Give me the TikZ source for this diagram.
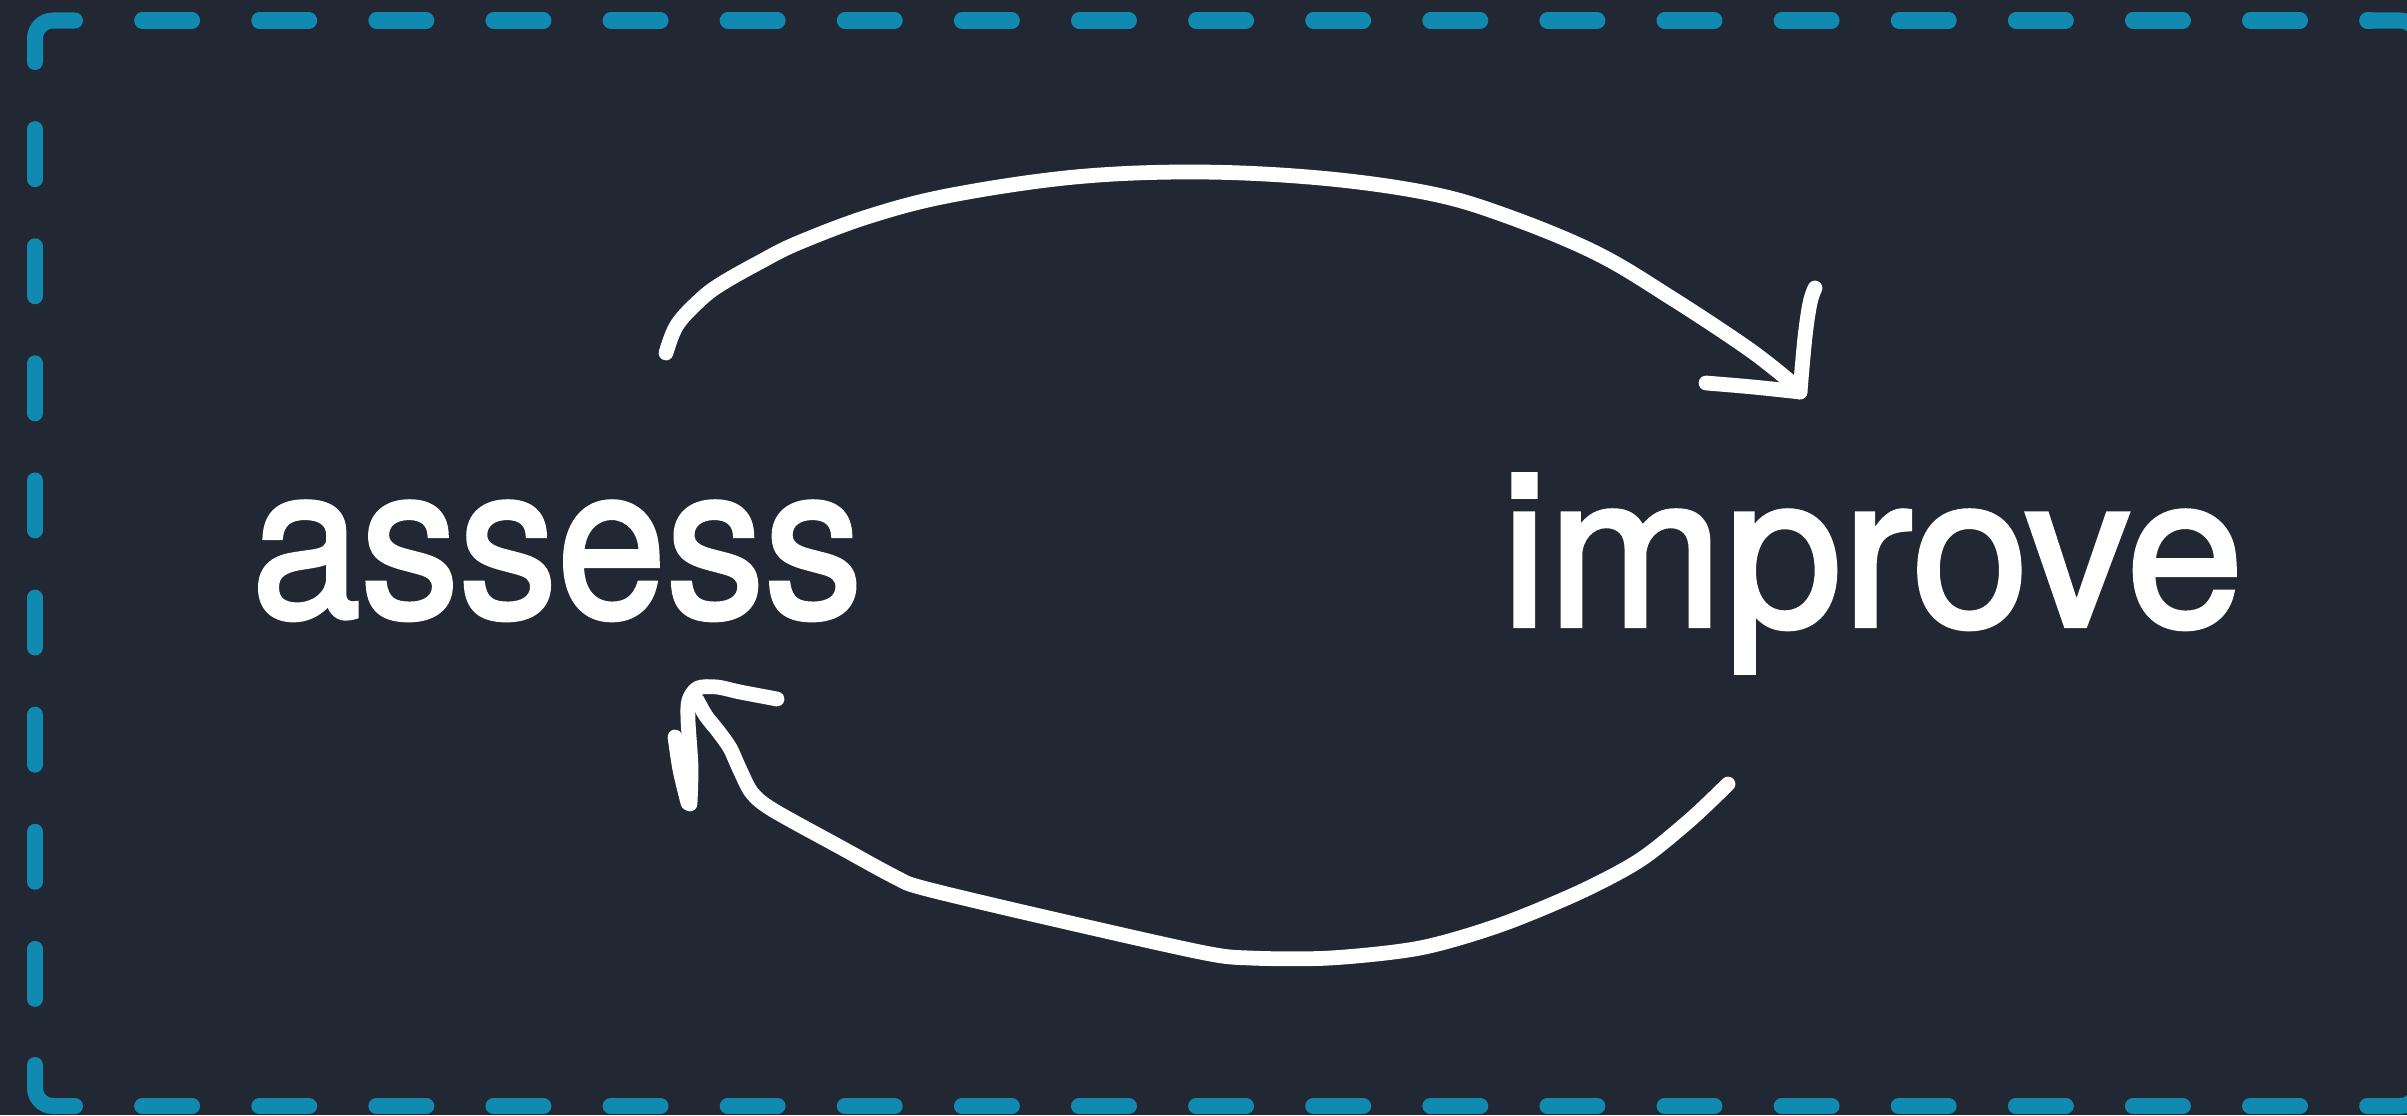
\documentclass[tikz,border=0pt]{standalone}
\usepackage{fontspec}
\newfontfamily\heros[FakeBold=2]{TeX Gyre Heros}
\definecolor{bgc}{HTML}{212833}
\definecolor{bluec}{HTML}{118AB2}
\tikzset{
  frameline/.style={draw=bluec, line width=4.55pt, line cap=round, line join=round, rounded corners=5.1pt},
  dashside/.style={draw=bluec, line width=4.55pt, line cap=round, dash pattern=on 14.2pt off 19.1pt, dash phase=14.2pt},
  sketch/.style={draw=white, line width=4.2pt, line cap=round, line join=round},
  word/.style={text=white, inner sep=0pt, anchor=base west, font=\heros\fontsize{61}{70}\selectfont}
}
\begin{document}
\begin{tikzpicture}[x=0.01cm, y=-0.01cm]
\useasboundingbox (0,0) rectangle (2407,1115);
\clip (0,0) rectangle (2407,1115);
\fill[bgc] (0,0) rectangle (2407,1115);
% frame corners
\draw[frameline] (35,62) -- (35,20.5) -- (75,20.5);
\draw[frameline] (35,1065) -- (35,1106) -- (75,1106);
\draw[frameline] (2370,20.5) -- (2418,20.5) -- (2418,60);
\draw[frameline] (2370,1106) -- (2418,1106) -- (2418,1066);
% frame sides
\draw[dashside] (75,20.5) -- (2370,20.5);
\draw[dashside] (75,1106) -- (2370,1106);
\draw[dashside] (35,62) -- (35,1065);
% words
\node[word] (assess) at (251,617) {\scalebox{0.915}[1]{assess}};
\node[word] (improve) at (1500,626) {\scalebox{0.985}[1]{improve}};
% top arrow
\coordinate (topstart) at (666,353);
\coordinate (toptip) at (1800,392);
\draw[sketch] plot[smooth, tension=0.6] coordinates {(topstart) (677,325) (700,300) (721,284) (760,262) (798,243) (870,216) (952,195) (1075,177) (1197,172) (1320,178) (1428,193) (1504,215) (1596,253) (1673,299) (1750,350) (1793,384)};
\draw[sketch] plot[smooth, tension=0.6] coordinates {(toptip) (1805,337) (1810,303) (1815,288)};
\draw[sketch] plot[smooth, tension=0.6] coordinates {(toptip) (1753,387) (1706,383)};
% bottom arrow
\coordinate (botstart) at (1728,784);
\coordinate (bottip) at (697,700);
\draw[sketch] plot[smooth, tension=0.5] coordinates {(botstart) (1690,820) (1640,860) (1580,892) (1500,925) (1420,948) (1330,958) (1250,958) (1200,952) (1040,916) (923,888) (895,877) (840,847) (773,810) (752,793) (740,770) (730,748) (718,731) (706,716) (bottip)};
\draw[sketch] plot[smooth, tension=0.5] coordinates {(690,804) (691,767) (688,720) (689,700) (698,688) (717,687) (740,692) (777,699)};
\draw[sketch] plot[smooth, tension=0.5] coordinates {(675,737) (680,770) (688,803)};
\end{tikzpicture}
\end{document}
